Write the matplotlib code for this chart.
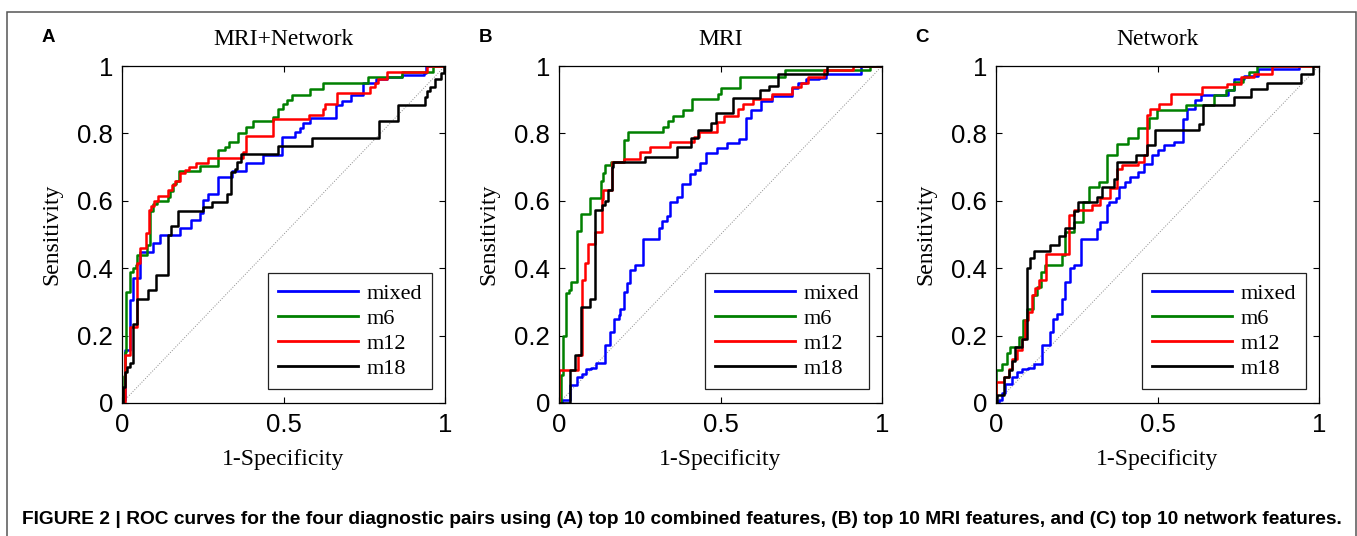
import matplotlib
matplotlib.use("Agg")
import matplotlib.pyplot as plt
from matplotlib import font_manager
from matplotlib.patches import Rectangle

# ROC vertices (1-specificity, sensitivity), drawn as steps-post
a_mixed = [(0, 0), (0.004, 0.01), (0.01, 0.157), (0.025, 0.306), (0.034, 0.37), (0.056, 0.449),
           (0.097, 0.475), (0.118, 0.498), (0.18, 0.52), (0.215, 0.544), (0.241, 0.564),
           (0.252, 0.603), (0.265, 0.62), (0.298, 0.672), (0.34, 0.687), (0.384, 0.712),
           (0.437, 0.737), (0.494, 0.79), (0.536, 0.805), (0.55, 0.815), (0.56, 0.83),
           (0.583, 0.845), (0.661, 0.883), (0.68, 0.897), (0.71, 0.913), (0.747, 0.951),
           (0.785, 0.96), (0.82, 0.967), (0.868, 0.972), (0.935, 0.98), (0.94, 1.0), (1.0, 1.0)]
a_m6 = [(0, 0), (0.005, 0.08), (0.008, 0.15), (0.012, 0.33), (0.025, 0.39), (0.035, 0.40),
        (0.043, 0.41), (0.047, 0.44), (0.076, 0.47), (0.087, 0.57), (0.097, 0.59), (0.107, 0.60),
        (0.143, 0.61), (0.15, 0.63), (0.159, 0.65), (0.166, 0.66), (0.176, 0.687), (0.241, 0.704),
        (0.298, 0.75), (0.32, 0.76), (0.332, 0.773), (0.36, 0.80), (0.385, 0.82), (0.406, 0.836),
        (0.467, 0.85), (0.483, 0.873), (0.498, 0.888), (0.51, 0.90), (0.525, 0.913),
        (0.582, 0.933), (0.623, 0.951), (0.763, 0.967), (0.866, 0.982), (0.964, 1.0), (1.0, 1.0)]
a_m12 = [(0, 0), (0.01, 0.143), (0.025, 0.226), (0.045, 0.414), (0.056, 0.459), (0.075, 0.505),
         (0.085, 0.573), (0.09, 0.586), (0.098, 0.60), (0.11, 0.613), (0.143, 0.633),
         (0.155, 0.648), (0.165, 0.66), (0.18, 0.683), (0.196, 0.69), (0.207, 0.70),
         (0.23, 0.713), (0.266, 0.727), (0.375, 0.745), (0.383, 0.792), (0.467, 0.842),
         (0.58, 0.855), (0.623, 0.873), (0.628, 0.888), (0.666, 0.921), (0.768, 0.937),
         (0.783, 0.951), (0.793, 0.96), (0.82, 0.982), (0.944, 1.0), (1.0, 1.0)]
a_m18 = [(0, 0), (0.003, 0.046), (0.008, 0.093), (0.015, 0.108), (0.025, 0.12), (0.035, 0.233),
         (0.045, 0.31), (0.081, 0.336), (0.105, 0.38), (0.143, 0.50), (0.153, 0.524),
         (0.174, 0.57), (0.252, 0.583), (0.278, 0.596), (0.326, 0.62), (0.337, 0.685),
         (0.35, 0.695), (0.357, 0.715), (0.368, 0.74), (0.483, 0.762), (0.589, 0.786),
         (0.796, 0.836), (0.853, 0.883), (0.937, 0.907), (0.945, 0.925), (0.953, 0.937),
         (0.97, 0.96), (0.989, 0.98), (0.997, 1.0), (1.0, 1.0)]

b_mixed = [(0, 0), (0.008, 0.01), (0.034, 0.052), (0.055, 0.076), (0.07, 0.085), (0.085, 0.10),
           (0.1, 0.105), (0.115, 0.12), (0.142, 0.171), (0.157, 0.21), (0.17, 0.25),
           (0.185, 0.262), (0.19, 0.28), (0.2, 0.33), (0.21, 0.355), (0.22, 0.394), (0.235, 0.41),
           (0.26, 0.487), (0.31, 0.52), (0.318, 0.54), (0.335, 0.555), (0.345, 0.596),
           (0.365, 0.61), (0.38, 0.65), (0.405, 0.68), (0.42, 0.69), (0.436, 0.712),
           (0.456, 0.742), (0.49, 0.757), (0.52, 0.772), (0.557, 0.784), (0.58, 0.846),
           (0.595, 0.87), (0.626, 0.895), (0.66, 0.91), (0.72, 0.935), (0.74, 0.95),
           (0.765, 0.96), (0.806, 0.965), (0.827, 0.977), (0.935, 1.0), (1.0, 1.0)]
b_m6 = [(0, 0), (0.007, 0.084), (0.012, 0.198), (0.021, 0.326), (0.031, 0.336), (0.038, 0.36),
        (0.057, 0.51), (0.069, 0.56), (0.095, 0.608), (0.131, 0.658), (0.137, 0.682),
        (0.142, 0.707), (0.16, 0.715), (0.2, 0.78), (0.213, 0.804), (0.323, 0.82), (0.339, 0.836),
        (0.354, 0.853), (0.385, 0.868), (0.411, 0.903), (0.493, 0.918), (0.503, 0.934),
        (0.56, 0.967), (0.70, 0.987), (0.964, 1.0), (1.0, 1.0)]
b_m12 = [(0, 0), (0, 0.097), (0.06, 0.141), (0.07, 0.364), (0.082, 0.414), (0.09, 0.473),
         (0.11, 0.507), (0.132, 0.606), (0.137, 0.633), (0.163, 0.715), (0.2, 0.725),
         (0.25, 0.745), (0.283, 0.76), (0.345, 0.775), (0.418, 0.79), (0.433, 0.805),
         (0.49, 0.833), (0.51, 0.853), (0.554, 0.873), (0.57, 0.888), (0.60, 0.903),
         (0.66, 0.918), (0.72, 0.937), (0.75, 0.95), (0.77, 0.967), (0.82, 0.987), (0.91, 1.0),
         (1.0, 1.0)]
b_m18 = [(0, 0), (0.034, 0.097), (0.05, 0.143), (0.068, 0.285), (0.096, 0.31), (0.11, 0.572),
         (0.132, 0.587), (0.142, 0.598), (0.153, 0.633), (0.163, 0.70), (0.168, 0.715),
         (0.266, 0.73), (0.365, 0.76), (0.41, 0.785), (0.43, 0.81), (0.47, 0.83), (0.485, 0.86),
         (0.54, 0.905), (0.623, 0.93), (0.65, 0.94), (0.677, 0.975), (0.83, 1.0), (1.0, 1.0)]

c_mixed = [(0, 0), (0.008, 0.01), (0.018, 0.03), (0.029, 0.057), (0.05, 0.077), (0.065, 0.092),
           (0.08, 0.10), (0.1, 0.105), (0.117, 0.117), (0.142, 0.171), (0.168, 0.211),
           (0.178, 0.25), (0.188, 0.265), (0.204, 0.31), (0.214, 0.36), (0.23, 0.40), (0.24, 0.41),
           (0.264, 0.487), (0.313, 0.517), (0.323, 0.537), (0.344, 0.587), (0.35, 0.596),
           (0.37, 0.607), (0.38, 0.64), (0.40, 0.656), (0.416, 0.67), (0.441, 0.686),
           (0.457, 0.71), (0.483, 0.735), (0.503, 0.75), (0.52, 0.765), (0.551, 0.775),
           (0.58, 0.843), (0.592, 0.873), (0.615, 0.9), (0.636, 0.913), (0.718, 0.93),
           (0.737, 0.96), (0.768, 0.97), (0.81, 0.99), (0.938, 1.0), (1.0, 1.0)]
c_m6 = [(0, 0), (0, 0.097), (0.019, 0.117), (0.034, 0.147), (0.044, 0.166), (0.07, 0.196),
        (0.083, 0.245), (0.096, 0.28), (0.115, 0.32), (0.127, 0.344), (0.14, 0.39), (0.153, 0.41),
        (0.204, 0.44), (0.214, 0.507), (0.24, 0.537), (0.27, 0.596), (0.287, 0.641),
        (0.318, 0.656), (0.344, 0.735), (0.375, 0.77), (0.41, 0.785), (0.441, 0.815),
        (0.474, 0.846), (0.499, 0.868), (0.587, 0.885), (0.675, 0.913), (0.711, 0.928),
        (0.737, 0.953), (0.765, 0.967), (0.783, 0.982), (0.809, 1.0), (1.0, 1.0)]
c_m12 = [(0, 0), (0, 0.062), (0.024, 0.077), (0.039, 0.10), (0.05, 0.131), (0.065, 0.156),
         (0.08, 0.19), (0.091, 0.245), (0.099, 0.27), (0.11, 0.32), (0.12, 0.34), (0.134, 0.364),
         (0.155, 0.443), (0.227, 0.557), (0.24, 0.572), (0.297, 0.587), (0.323, 0.607),
         (0.354, 0.637), (0.375, 0.695), (0.39, 0.705), (0.441, 0.715), (0.457, 0.735),
         (0.467, 0.855), (0.478, 0.873), (0.504, 0.888), (0.543, 0.917), (0.639, 0.937),
         (0.716, 0.947), (0.757, 0.967), (0.80, 0.975), (0.855, 1.0), (1.0, 1.0)]
c_m18 = [(0, 0), (0.003, 0.023), (0.024, 0.077), (0.04, 0.097), (0.05, 0.126), (0.06, 0.166),
         (0.08, 0.19), (0.096, 0.40), (0.106, 0.43), (0.117, 0.45), (0.168, 0.47),
         (0.194, 0.496), (0.214, 0.52), (0.24, 0.57), (0.254, 0.596), (0.313, 0.61),
         (0.328, 0.64), (0.364, 0.665), (0.375, 0.715), (0.432, 0.735), (0.467, 0.765),
         (0.493, 0.81), (0.628, 0.828), (0.64, 0.883), (0.737, 0.908), (0.788, 0.933),
         (0.84, 0.95), (0.943, 0.977), (0.98, 1.0), (1.0, 1.0)]

series_names = ["mixed", "m6", "m12", "m18"]
series_colors = ["#0000ff", "#008000", "#ff0000", "#000000"]
panel_letters = ["A", "B", "C"]
panel_titles = ["MRI+Network", "MRI", "Network"]
panel_curves = [[a_mixed, a_m6, a_m12, a_m18],
                [b_mixed, b_m6, b_m12, b_m18],
                [c_mixed, c_m6, c_m12, c_m18]]
yticks = [0, 0.2, 0.4, 0.6, 0.8, 1]
ytick_labels = ["0", "0.2", "0.4", "0.6", "0.8", "1"]
xticks = [0, 0.5, 1]
xtick_labels = ["0", "0.5", "1"]
caption = ("FIGURE 2 | ROC curves for the four diagnostic pairs using (A) top 10 combined features, "
           "(B) top 10 MRI features, and (C) top 10 network features.")

W, H = 1357, 536
serif = "Liberation Serif"
sans = "Liberation Sans"
names = {f.name for f in font_manager.fontManager.ttflist}
cap_font = "Liberation Sans Narrow" if "Liberation Sans Narrow" in names else sans

fig = plt.figure(figsize=(W / 100, H / 100), dpi=100)

# outer frame (open at the bottom, as cropped in the page)
fig.add_artist(Rectangle((7 / W, -0.05), (1355.5 - 7) / W, 1.05 - 12 / H,
                         transform=fig.transFigure, fill=False, edgecolor="#555555", lw=1.1))

lefts = [122, 559, 996]
for i in range(3):
    left = lefts[i]
    ax = fig.add_axes([left / W, (H - 403) / H, 323 / W, 337 / H])
    ax.plot([0, 1], [0, 1], ls=":", color="0.55", lw=0.7)
    for pts, name, col in zip(panel_curves[i], series_names, series_colors):
        xs = [p[0] for p in pts]
        ys = [p[1] for p in pts]
        ax.plot(xs, ys, drawstyle="steps-post", color=col, lw=1.8, label=name)
    ax.set_xlim(0, 1)
    ax.set_ylim(0, 1)
    ax.set_xticks(xticks)
    ax.set_xticklabels(xtick_labels)
    ax.set_yticks(yticks)
    ax.set_yticklabels(ytick_labels)
    ax.tick_params(direction="in", top=True, right=True, length=4, width=0.8,
                   labelsize=18.5)
    ax.tick_params(axis="y", pad=6.5)
    ax.tick_params(axis="x", pad=7)
    for lab in ax.get_xticklabels() + ax.get_yticklabels():
        lab.set_family(sans)
    for sp in ax.spines.values():
        sp.set_linewidth(0.9)

    leg = ax.legend(loc="lower right", bbox_to_anchor=(0.96, 0.042), borderaxespad=0,
                    prop={"family": serif, "size": 16}, handlelength=3.6,
                    handletextpad=0.4, labelspacing=0.2, borderpad=0.45,
                    fancybox=False, framealpha=1, edgecolor="#222222")
    leg.get_frame().set_linewidth(0.9)
    for h in leg.get_lines():
        h.set_linewidth(2)

    cx = (left + 161.5) / W
    fig.text(cx, 1 - 45 / H, panel_titles[i], family=serif, fontsize=17,
             ha="center", va="baseline")
    fig.text(cx, 1 - 460 / H, "1-Specificity", family=serif, fontsize=17,
             ha="center", va="center")
    fig.text((left - 70) / W, 1 - 234.5 / H, "Sensitivity", family=serif, fontsize=17,
             rotation=90, ha="center", va="center")
    fig.text((left - 74) / W, 1 - 38 / H, panel_letters[i], family=sans,
             fontweight="bold", fontsize=13.5, ha="center", va="center")

cap = fig.text(22 / W, 1 - 519 / H, caption, family=cap_font, fontweight="bold",
               fontsize=12, ha="left", va="center")
fig.canvas.draw()
bw = cap.get_window_extent().width
cap.set_fontsize(12 * (1340 - 22) / bw)

fig.savefig("out.png", dpi=100)
